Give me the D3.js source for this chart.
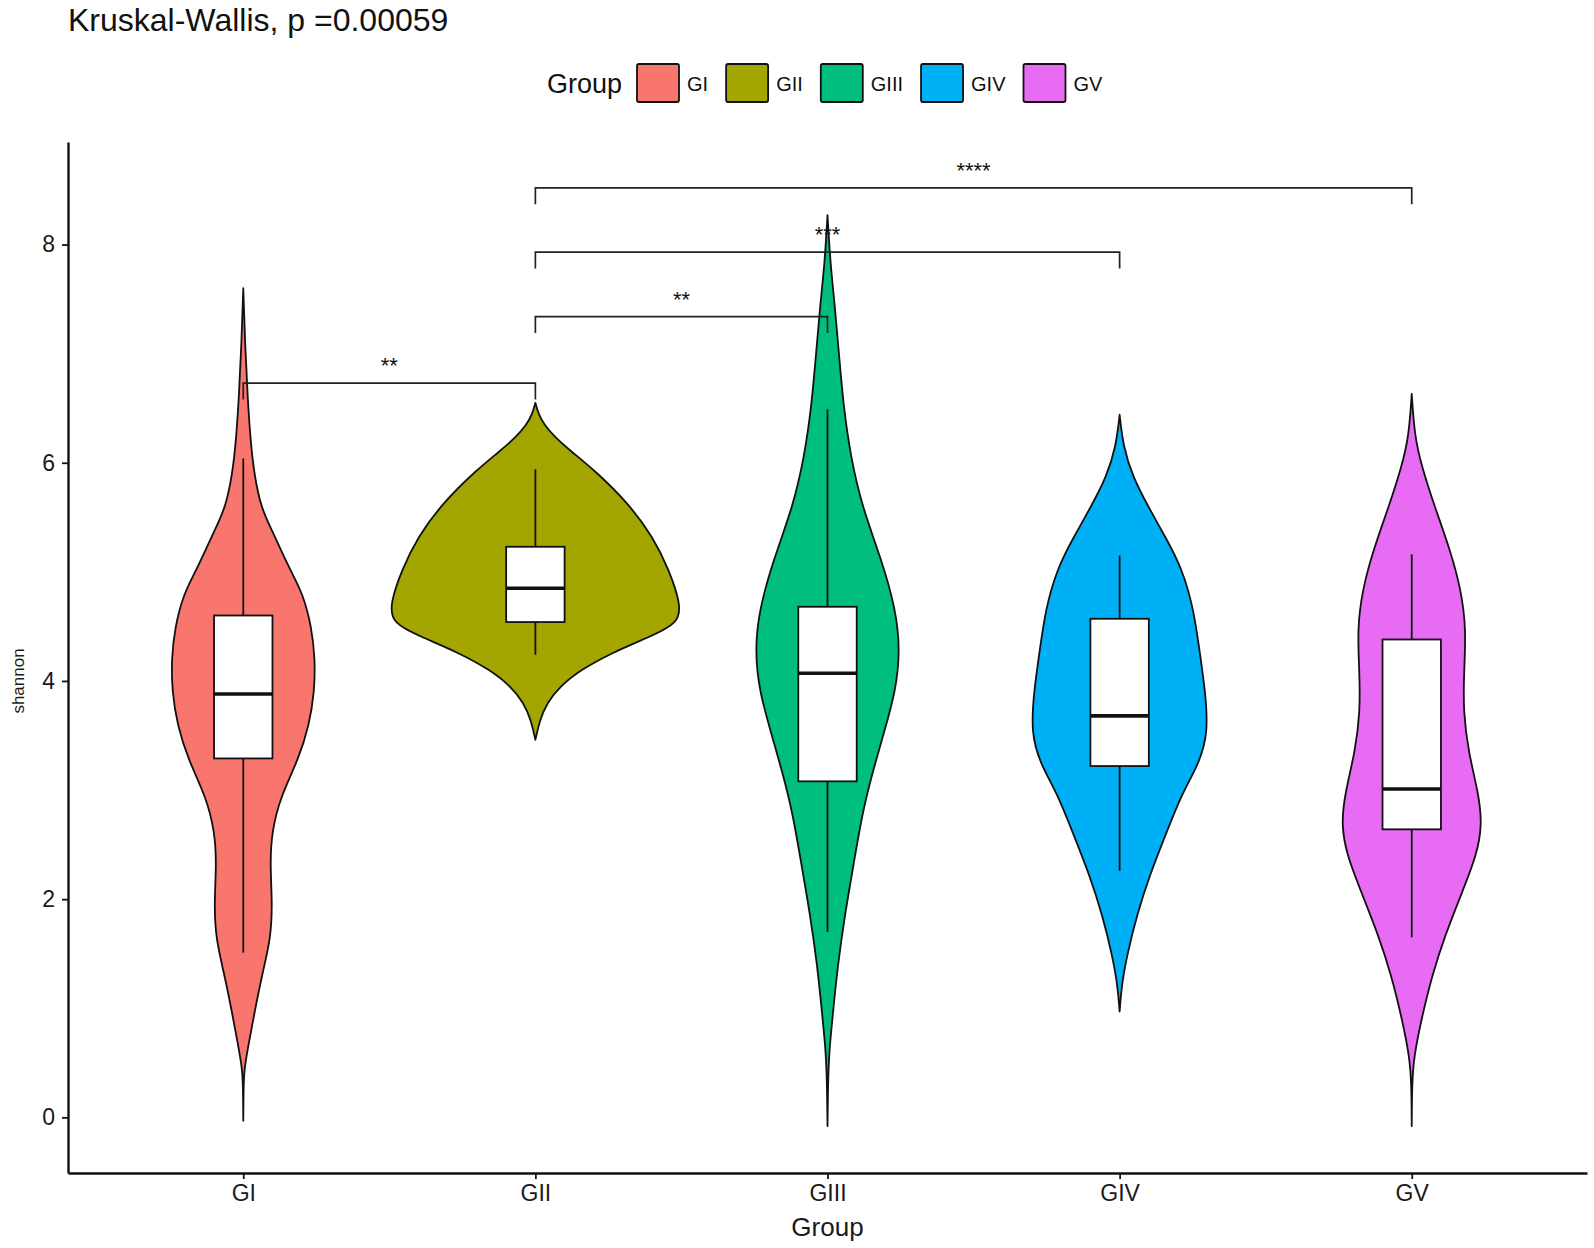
<!DOCTYPE html>
<html>
<head>
<meta charset="utf-8">
<script src="https://cdn.jsdelivr.net/npm/d3@7"></script>
<style>
  body { margin: 0; background: #fff; }
  svg { font-family: "Liberation Sans", Arial, Helvetica, sans-serif; }
</style>
</head>
<body>
<svg id="chart" width="1594" height="1248"></svg>
<script>
const groups = ["GI", "GII", "GIII", "GIV", "GV"];
const colors = ["#F8766D", "#A3A500", "#00BF7D", "#00B0F6", "#E76BF3"];

// violin outlines: [shannon value, relative density]
const densGI = [[7.60,0],[7.10,0.012],[6.60,0.03],[6.20,0.05],[5.90,0.075],[5.60,0.12],[5.40,0.19],[5.20,0.26],[5.00,0.33],[4.80,0.41],[4.50,0.47],[4.20,0.495],[3.90,0.49],[3.60,0.455],[3.28,0.38],[2.95,0.26],[2.62,0.195],[2.30,0.185],[1.97,0.20],[1.64,0.19],[1.31,0.13],[0.98,0.08],[0.66,0.035],[0.45,0.008],[0.30,0.002],[-0.03,0]];
const densGII = [[6.55,0],[6.45,0.02],[6.35,0.06],[6.24,0.13],[6.10,0.25],[5.94,0.40],[5.63,0.64],[5.32,0.81],[5.02,0.92],[4.71,1.0],[4.53,0.99],[4.40,0.78],[4.26,0.53],[4.10,0.31],[3.95,0.17],[3.80,0.08],[3.64,0.03],[3.46,0]];
const densGIII = [[8.27,0],[7.82,0.02],[7.45,0.05],[6.98,0.08],[6.52,0.11],[6.05,0.16],[5.59,0.24],[5.12,0.37],[4.66,0.47],[4.28,0.50],[3.91,0.47],[3.53,0.39],[3.16,0.31],[2.79,0.24],[2.32,0.18],[1.86,0.12],[1.39,0.07],[0.92,0.035],[0.64,0.014],[0.36,0.004],[-0.08,0]];
const densGIV = [[6.44,0],[6.15,0.025],[5.87,0.09],[5.59,0.20],[5.31,0.32],[5.03,0.43],[4.66,0.51],[4.28,0.55],[3.91,0.59],[3.53,0.61],[3.25,0.55],[2.97,0.43],[2.60,0.32],[2.23,0.21],[1.86,0.12],[1.48,0.05],[1.21,0.014],[0.97,0]];
const densGV = [[6.63,0],[6.24,0.02],[5.96,0.07],[5.59,0.16],[5.22,0.26],[4.84,0.34],[4.47,0.375],[4.09,0.36],[3.72,0.355],[3.35,0.39],[2.97,0.46],[2.69,0.485],[2.41,0.45],[2.04,0.34],[1.67,0.23],[1.30,0.14],[0.92,0.07],[0.55,0.014],[0.30,0.002],[-0.08,0]];
const densities = [densGI, densGII, densGIII, densGIV, densGV];

// boxplot stats
const whiskerLow  = [1.51, 4.24, 1.70, 2.26, 1.65];
const q1          = [3.29, 4.54, 3.08, 3.22, 2.64];
const medians     = [3.88, 4.85, 4.07, 3.68, 3.01];
const q3          = [4.60, 5.23, 4.68, 4.57, 4.38];
const whiskerHigh = [6.04, 5.94, 6.49, 5.15, 5.16];

// pairwise comparisons
const compPairs  = [["GI","GII"], ["GII","GIII"], ["GII","GIV"], ["GII","GV"]];
const compLabels = ["**", "**", "***", "****"];
const compLevels = [6.73, 7.34, 7.93, 8.52];

const yTicks = [0, 2, 4, 6, 8];
const title = "Kruskal-Wallis, p =0.00059";

const svg = d3.select("#chart");
const plotLeft = 68, plotRight = 1587, plotTop = 142, plotBottom = 1173;

const x = d3.scalePoint().domain(groups).range([plotLeft, plotRight]).padding(0.6);
const y = d3.scaleLinear().domain([-0.51, 8.94]).range([plotBottom, plotTop]);
const w = d3.scaleLinear().domain([0, 1]).range([0, x.step() * 0.497]);
const color = d3.scaleOrdinal().domain(groups).range(colors);
const boxHalf = x.step() * 0.1;

const rows = groups.map((g, i) => ({
    g, dens: densities[i],
    lo: whiskerLow[i], q1: q1[i], med: medians[i], q3: q3[i], hi: whiskerHigh[i]
}));

// Violins
svg.append("g").selectAll("path")
    .data(rows)
    .enter()
    .append("path")
    .attr("d", d => d3.area()
        .curve(d3.curveBasis)
        .y(p => y(p[0]))
        .x0(p => x(d.g) - w(p[1]))
        .x1(p => x(d.g) + w(p[1]))(d.dens))
    .attr("fill", d => color(d.g))
    .attr("stroke", "#111")
    .attr("stroke-width", 1.8)
    .attr("stroke-linejoin", "round");

// Boxes
const boxes = svg.append("g").selectAll("g")
    .data(rows)
    .enter()
    .append("g");

boxes.append("line")
    .attr("x1", d => x(d.g)).attr("x2", d => x(d.g))
    .attr("y1", d => y(d.hi)).attr("y2", d => y(d.q3))
    .attr("stroke", "#111").attr("stroke-width", 1.8);

boxes.append("line")
    .attr("x1", d => x(d.g)).attr("x2", d => x(d.g))
    .attr("y1", d => y(d.q1)).attr("y2", d => y(d.lo))
    .attr("stroke", "#111").attr("stroke-width", 1.8);

boxes.append("rect")
    .attr("x", d => x(d.g) - boxHalf)
    .attr("width", boxHalf * 2)
    .attr("y", d => y(d.q3))
    .attr("height", d => y(d.q1) - y(d.q3))
    .attr("fill", "#fff")
    .attr("stroke", "#111")
    .attr("stroke-width", 1.8);

boxes.append("line")
    .attr("x1", d => x(d.g) - boxHalf).attr("x2", d => x(d.g) + boxHalf)
    .attr("y1", d => y(d.med)).attr("y2", d => y(d.med))
    .attr("stroke", "#111").attr("stroke-width", 3.6);

// Comparison brackets
const tip = 0.15;
const brackets = svg.append("g").selectAll("g")
    .data(compPairs.map((p, i) => ({ a: p[0], b: p[1], label: compLabels[i], lvl: compLevels[i] })))
    .enter()
    .append("g");

brackets.append("path")
    .attr("d", d => `M${x(d.a)},${y(d.lvl - tip)}V${y(d.lvl)}H${x(d.b)}V${y(d.lvl - tip)}`)
    .attr("fill", "none")
    .attr("stroke", "#222")
    .attr("stroke-width", 1.7);

brackets.append("text")
    .attr("x", d => (x(d.a) + x(d.b)) / 2)
    .attr("y", d => y(d.lvl) - 10)
    .attr("text-anchor", "middle")
    .attr("fill", "#111")
    .style("font-size", "22px")
    .text(d => d.label);

// Axes
const yAxis = svg.append("g")
    .attr("transform", `translate(${plotLeft},0)`)
    .call(d3.axisLeft(y).tickValues(yTicks).tickSize(6).tickSizeOuter(0).tickPadding(7));

const xAxis = svg.append("g")
    .attr("transform", `translate(0,${plotBottom})`)
    .call(d3.axisBottom(x).tickSize(6).tickSizeOuter(0).tickPadding(6));

[yAxis, xAxis].forEach(a => {
    a.select(".domain").attr("stroke", "#111").attr("stroke-width", 2.4);
    a.selectAll(".tick line").attr("stroke", "#111").attr("stroke-width", 1.8);
    a.selectAll(".tick text")
        .attr("fill", "#1a1a1a")
        .style("font-size", "23px")
        .style("font-family", "'Liberation Sans', Arial, sans-serif");
});

// Axis titles
svg.append("text")
    .attr("transform", "translate(24,681) rotate(-90)")
    .attr("text-anchor", "middle")
    .attr("fill", "#1a1a1a")
    .style("font-size", "17px")
    .text("shannon");

svg.append("text")
    .attr("x", (plotLeft + plotRight) / 2)
    .attr("y", 1236)
    .attr("text-anchor", "middle")
    .attr("fill", "#1a1a1a")
    .style("font-size", "26px")
    .text("Group");

// Title
svg.append("text")
    .attr("x", plotLeft)
    .attr("y", 31)
    .attr("fill", "#111")
    .style("font-size", "32px")
    .text(title);

// Legend
const legend = svg.append("g");
legend.append("text")
    .attr("x", 547).attr("y", 93)
    .attr("fill", "#111")
    .style("font-size", "27px")
    .text("Group");

let lx = 637;
groups.forEach(g => {
    legend.append("rect")
        .attr("x", lx).attr("y", 64)
        .attr("width", 42).attr("height", 38)
        .attr("rx", 2)
        .attr("fill", color(g))
        .attr("stroke", "#111")
        .attr("stroke-width", 1.8);
    const t = legend.append("text")
        .attr("x", lx + 50).attr("y", 91)
        .attr("fill", "#111")
        .style("font-size", "20px")
        .text(g);
    lx += 50 + t.node().getComputedTextLength() + 18;
});
</script>
</body>
</html>
